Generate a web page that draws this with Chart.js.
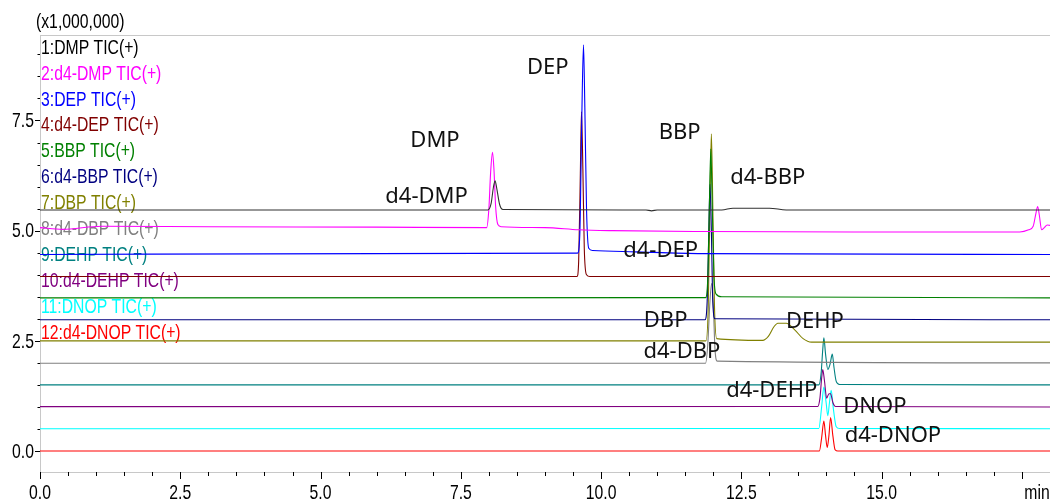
<!DOCTYPE html>
<html>
<head>
<meta charset="utf-8">
<script src="https://cdn.jsdelivr.net/npm/chart.js@4/dist/chart.umd.min.js"></script>
<style>
    html, body { margin: 0; padding: 0; background: #fff; }
    #wrap { width: 1050px; height: 504px; position: relative; }
</style>
</head>
<body>
<div id="wrap"><canvas id="tic"></canvas></div>
<script>
// TIC traces, [retention time (min), intensity (x1,000,000)]
const ticDMP = [[0, 5.47], [7.98, 5.47], [8.04, 5.62], [8.08, 5.98], [8.11, 6.13], [8.14, 5.96], [8.19, 5.6], [8.25, 5.48],
    [10.8, 5.47], [10.9, 5.45], [11.0, 5.47], [12.15, 5.47], [12.35, 5.51], [13.0, 5.51], [13.3, 5.47], [18, 5.47]];
const ticD4DMP = [[0, 5.07], [0.4, 5.03], [1.1, 5.1], [3.0, 5.09], [6.0, 5.08], [7.96, 5.07], [8.0, 5.5], [8.03, 6.3], [8.064, 6.78],
    [8.09, 6.4], [8.12, 5.55], [8.16, 5.14], [8.22, 5.09], [9.0, 5.07], [9.6, 5.02], [10.2, 5.0], [11.8, 4.98], [14.5, 4.97],
    [17.46, 4.97], [17.62, 5.02], [17.7, 5.1], [17.75, 5.4], [17.78, 5.55], [17.81, 5.35], [17.85, 5.02], [17.9, 5.07],
    [17.95, 5.13], [18, 5.12]];
const ticDEP = [[0, 4.46], [6.0, 4.48], [9.58, 4.49], [9.62, 4.9], [9.655, 7.5], [9.686, 9.22], [9.71, 7.8], [9.74, 5.5],
    [9.78, 4.6], [9.85, 4.55], [10.6, 4.52], [11.8, 4.48], [18, 4.46]];
const ticD4DEP = [[0, 3.96], [9.57, 3.96], [9.6, 4.3], [9.63, 6.3], [9.65, 7.7], [9.675, 6.4], [9.7, 4.6], [9.74, 4.0],
    [9.8, 3.96], [18, 3.96]];
const ticBBP = [[0, 3.476], [11.86, 3.48], [11.9, 3.9], [11.93, 5.6], [11.955, 6.85], [11.98, 5.6], [12.01, 4.0],
    [12.05, 3.56], [12.15, 3.5], [18, 3.476]];
const ticD4BBP = [[0, 2.98], [11.85, 2.98], [11.89, 3.4], [11.92, 5.0], [11.94, 6.05], [11.965, 5.0], [11.99, 3.4],
    [12.03, 3.0], [18, 2.98]];
const ticDBP = [[0, 2.5], [11.87, 2.5], [11.91, 3.3], [11.94, 5.6], [11.965, 7.2], [11.99, 5.6], [12.02, 3.3], [12.06, 2.55],
    [12.88, 2.51], [12.98, 2.6], [13.08, 2.82], [13.15, 2.9], [13.3, 2.9], [13.45, 2.75], [13.6, 2.55], [13.75, 2.47], [18, 2.47]];
const ticD4DBP = [[0, 1.99], [11.86, 1.99], [11.9, 2.4], [11.94, 3.4], [11.97, 3.8], [12.0, 3.3], [12.03, 2.3],
    [12.07, 2.04], [18, 2.0]];
const ticDEHP = [[0, 1.5], [13.88, 1.5], [13.92, 1.75], [13.95, 2.3], [13.97, 2.57], [14.0, 2.2], [14.04, 1.85],
    [14.08, 1.97], [14.12, 2.2], [14.15, 1.9], [14.19, 1.58], [14.25, 1.51], [18, 1.5]];
const ticD4DEHP = [[0, 1.007], [13.86, 1.01], [13.9, 1.2], [13.93, 1.65], [13.95, 1.85], [13.98, 1.6], [14.02, 1.2],
    [14.06, 1.3], [14.09, 1.3], [14.13, 1.1], [14.18, 1.01], [18, 1.0]];
const ticDNOP = [[0, 0.507], [13.88, 0.51], [13.93, 1.0], [13.97, 1.45], [14.01, 1.1], [14.04, 0.8], [14.07, 1.1],
    [14.1, 1.38], [14.14, 0.95], [14.19, 0.55], [14.25, 0.51], [18, 0.507]];
const ticD4DNOP = [[0, 0], [13.89, 0], [13.93, 0.3], [13.97, 0.68], [14.0, 0.35], [14.03, 0.08], [14.06, 0.35],
    [14.09, 0.76], [14.13, 0.35], [14.17, 0.03], [14.22, 0], [18, 0]];

const traceNames = ['1:DMP TIC(+)', '2:d4-DMP TIC(+)', '3:DEP TIC(+)', '4:d4-DEP TIC(+)', '5:BBP TIC(+)', '6:d4-BBP TIC(+)',
    '7:DBP TIC(+)', '8:d4-DBP TIC(+)', '9:DEHP TIC(+)', '10:d4-DEHP TIC(+)', '11:DNOP TIC(+)', '12:d4-DNOP TIC(+)'];
const traces = [ticDMP, ticD4DMP, ticDEP, ticD4DEP, ticBBP, ticD4BBP, ticDBP, ticD4DBP, ticDEHP, ticD4DEHP, ticDNOP, ticD4DNOP];

// peak annotations: name, retention time, intensity where the text sits
const peakNames = ['DEP', 'DMP', 'd4-DMP', 'BBP', 'd4-BBP', 'd4-DEP', 'DBP', 'DEHP', 'd4-DBP', 'd4-DEHP', 'DNOP', 'd4-DNOP'];
const peakTimes = [9.05, 7.04, 6.89, 11.40, 12.97, 11.06, 11.15, 13.81, 11.44, 13.04, 14.88, 15.20];
const peakLevels = [8.695, 7.03, 5.77, 7.22, 6.20, 4.55, 2.96, 2.93, 2.26, 1.36, 1.01, 0.34];

const xTickValues = [0, 2.5, 5, 7.5, 10, 12.5, 15];
const xTickLabels = ['0.0', '2.5', '5.0', '7.5', '10.0', '12.5', '15.0'];
const yTickValues = [0, 2.5, 5, 7.5];
const yTickLabels = ['0.0', '2.5', '5.0', '7.5'];
const yUnit = '(x1,000,000)';
const xUnit = 'min';

const colors = ['#000000', '#ff00ff', '#0000ff', '#800000', '#008000', '#000080',
    '#808000', '#808080', '#008080', '#800080', '#00ffff', '#ff0000'];
const lineColors = colors.slice();
lineColors[0] = '#303030';

// no narrow face is installed, so squeeze Liberation Sans horizontally
function narrowText(ctx, text, x, y, align) {
    ctx.save();
    ctx.translate(x, y);
    ctx.scale(0.75, 1);
    ctx.textAlign = align;
    ctx.fillText(text, 0, 0);
    ctx.restore();
}

const overlay = {
    id: 'overlay',
    beforeDatasetsDraw: function (chart) {
        const ctx = chart.ctx, a = chart.chartArea;
        ctx.save();
        ctx.font = '21px "Liberation Sans", Arial, sans-serif';
        ctx.textBaseline = 'middle';
        traceNames.forEach(function (name, i) {
            ctx.fillStyle = colors[i];
            narrowText(ctx, name, a.left + 1, a.top + 13 + i * 25.9, 'left');
        });
        ctx.restore();
    },
    afterDraw: function (chart) {
        const ctx = chart.ctx, a = chart.chartArea;
        const xs = chart.scales.x, ys = chart.scales.y;
        ctx.save();
        // top frame line
        ctx.strokeStyle = '#c8c8c8';
        ctx.lineWidth = 1;
        ctx.beginPath();
        ctx.moveTo(a.left, a.top + 0.5);
        ctx.lineTo(a.right, a.top + 0.5);
        ctx.stroke();
        // tick marks, long on labelled values
        ctx.strokeStyle = '#000';
        ctx.beginPath();
        for (let v = 0; v <= 17.5001; v += 0.5) {
            const px = Math.round(xs.getPixelForValue(v)) + 0.5;
            const major = Math.abs(v / 2.5 - Math.round(v / 2.5)) < 1e-6;
            ctx.moveTo(px, a.bottom);
            ctx.lineTo(px, a.bottom + (major ? 7 : 4));
        }
        for (let v = 0; v <= 9.0001; v += 0.5) {
            const py = Math.round(ys.getPixelForValue(v)) + 0.5;
            const major = Math.abs(v / 2.5 - Math.round(v / 2.5)) < 1e-6;
            ctx.moveTo(a.left, py);
            ctx.lineTo(a.left - (major ? 5 : 2.5), py);
        }
        ctx.stroke();
        // tick labels and units
        ctx.fillStyle = '#000';
        ctx.font = '21px "Liberation Sans", Arial, sans-serif';
        ctx.textBaseline = 'middle';
        xTickValues.forEach(function (v, i) {
            narrowText(ctx, xTickLabels[i], xs.getPixelForValue(v), a.bottom + 21, 'center');
        });
        yTickValues.forEach(function (v, i) {
            narrowText(ctx, yTickLabels[i], a.left - 6, ys.getPixelForValue(v) + 1, 'right');
        });
        narrowText(ctx, yUnit, 36, 22, 'left');
        narrowText(ctx, xUnit, 1037, a.bottom + 21, 'center');
        // peak names
        ctx.font = '22px "Noto Sans", sans-serif';
        ctx.fillStyle = '#111';
        ctx.textAlign = 'center';
        peakNames.forEach(function (n, i) {
            ctx.fillText(n, xs.getPixelForValue(peakTimes[i]), ys.getPixelForValue(peakLevels[i]));
        });
        ctx.restore();
    }
};

new Chart(document.getElementById('tic'), {
    type: 'line',
    data: {
        datasets: traces.map(function (tr, i) {
            return {
                label: traceNames[i],
                data: tr.map(function (p) { return { x: p[0], y: p[1] }; }),
                borderColor: lineColors[i],
                borderWidth: 1.1,
                pointRadius: 0,
                cubicInterpolationMode: 'monotone',
                fill: false
            };
        })
    },
    options: {
        responsive: true,
        maintainAspectRatio: false,
        animation: false,
        devicePixelRatio: 1,
        layout: { padding: { top: 35, right: 0, left: 0, bottom: 0 } },
        plugins: { legend: { display: false }, tooltip: { enabled: false } },
        scales: {
            x: {
                type: 'linear', min: 0, max: 18,
                grid: { display: false },
                border: { display: true, color: '#c8c8c8' },
                ticks: { display: false },
                afterFit: function (s) { s.height = 32; }
            },
            y: {
                min: -0.476, max: 9.44,
                grid: { display: false },
                border: { display: true, color: '#c8c8c8' },
                ticks: { display: false },
                afterFit: function (s) { s.width = 40; }
            }
        }
    },
    plugins: [overlay]
});
</script>
</body>
</html>
